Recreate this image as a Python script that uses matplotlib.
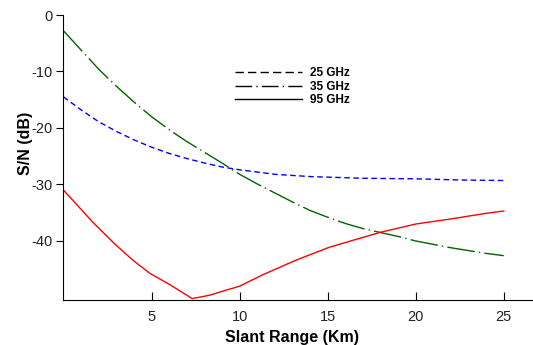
import matplotlib
matplotlib.use("Agg")
import matplotlib.pyplot as plt
from matplotlib.lines import Line2D

plt.rcParams["font.family"] = ["Liberation Sans", "DejaVu Sans"]
plt.rcParams["axes.unicode_minus"] = False

# 25 GHz
x_25 = [0, 1, 2, 3, 4, 5, 6, 7, 8, 9, 10, 11, 12, 13, 14, 15, 17, 20, 22.5, 25]
sn_25 = [-14.5, -16.8, -18.9, -20.6, -22.1, -23.4, -24.5, -25.4, -26.2, -26.9,
         -27.4, -27.8, -28.2, -28.4, -28.6, -28.7, -28.9, -29.0, -29.2, -29.3]

# 35 GHz
x_35 = [0, 1, 2, 3, 4, 5, 6, 7, 8, 9, 10, 11, 12, 13, 14, 15, 16, 17, 18, 19,
        20, 21, 22, 23, 24, 25]
sn_35 = [-2.8, -6.2, -9.6, -12.6, -15.4, -18.0, -20.3, -22.4, -24.3, -26.2,
         -28.2, -29.9, -31.5, -33.1, -34.6, -35.8, -36.9, -37.8, -38.5, -39.2,
         -40.0, -40.6, -41.2, -41.7, -42.2, -42.6]

# 95 GHz
x_95 = [0, 0.53, 1.67, 2.9, 3.94, 4.89, 6.02, 7.31, 8.3, 9.24, 10, 11.3, 13.2,
        15.1, 17.95, 20, 21.1, 22, 23, 24, 25]
sn_95 = [-31.0, -32.8, -36.7, -40.5, -43.4, -45.7, -47.7, -50.2, -49.6, -48.7,
         -48.0, -46.0, -43.4, -41.1, -38.5, -37.0, -36.5, -36.1, -35.6, -35.1,
         -34.7]

x_ticks = [5, 10, 15, 20, 25]
y_ticks = [0, -10, -20, -30, -40]
labels = ["25 GHz", "35 GHz", "95 GHz"]

fig = plt.figure(figsize=(5.33, 3.45), dpi=100)
ax = fig.add_axes([0.1175, 0.1304, 0.8805, 0.8261])

ax.plot(x_25, sn_25, color="#0000ff", lw=1, dashes=(4, 2.5))
ax.plot(x_35, sn_35, color="#006400", lw=1, dashes=(20, 3, 1, 3))
ax.plot(x_95, sn_95, color="#ff0000", lw=1)

ax.set_xlim(-0.05, 26.6)
ax.set_ylim(-50.45, 0)
ax.set_xticks(x_ticks)
ax.set_yticks(y_ticks)
ax.tick_params(axis="x", direction="in", length=6, labelsize=10.5, pad=7.5,
               labelcolor="#222222")
ax.tick_params(axis="y", direction="out", length=5, labelsize=10.5, pad=2,
               labelcolor="#222222")

for side in ["top", "right"]:
    ax.spines[side].set_visible(False)

ax.set_xlabel("Slant Range (Km)", fontsize=11.5, fontweight="bold")
ax.xaxis.set_label_coords(0.489, -0.105, transform=ax.transAxes)
ax.xaxis.label.set_va("top")
ax.set_ylabel("S/N (dB)", fontsize=11.5, fontweight="bold")
ax.yaxis.set_label_coords(-0.063, 0.55, transform=ax.transAxes)

handles = [
    Line2D([], [], color="black", lw=1, dashes=(6, 3)),
    Line2D([], [], color="black", lw=1, dashes=(12, 3, 1, 3)),
    Line2D([], [], color="black", lw=1),
]
ax.legend(handles, labels, loc="upper left", bbox_to_anchor=(0.345, 0.855),
          frameon=False, prop={"weight": "bold", "size": 8.5},
          handlelength=5.7, handletextpad=0.68, labelspacing=0.15)

fig.savefig("out.png", dpi=100)
